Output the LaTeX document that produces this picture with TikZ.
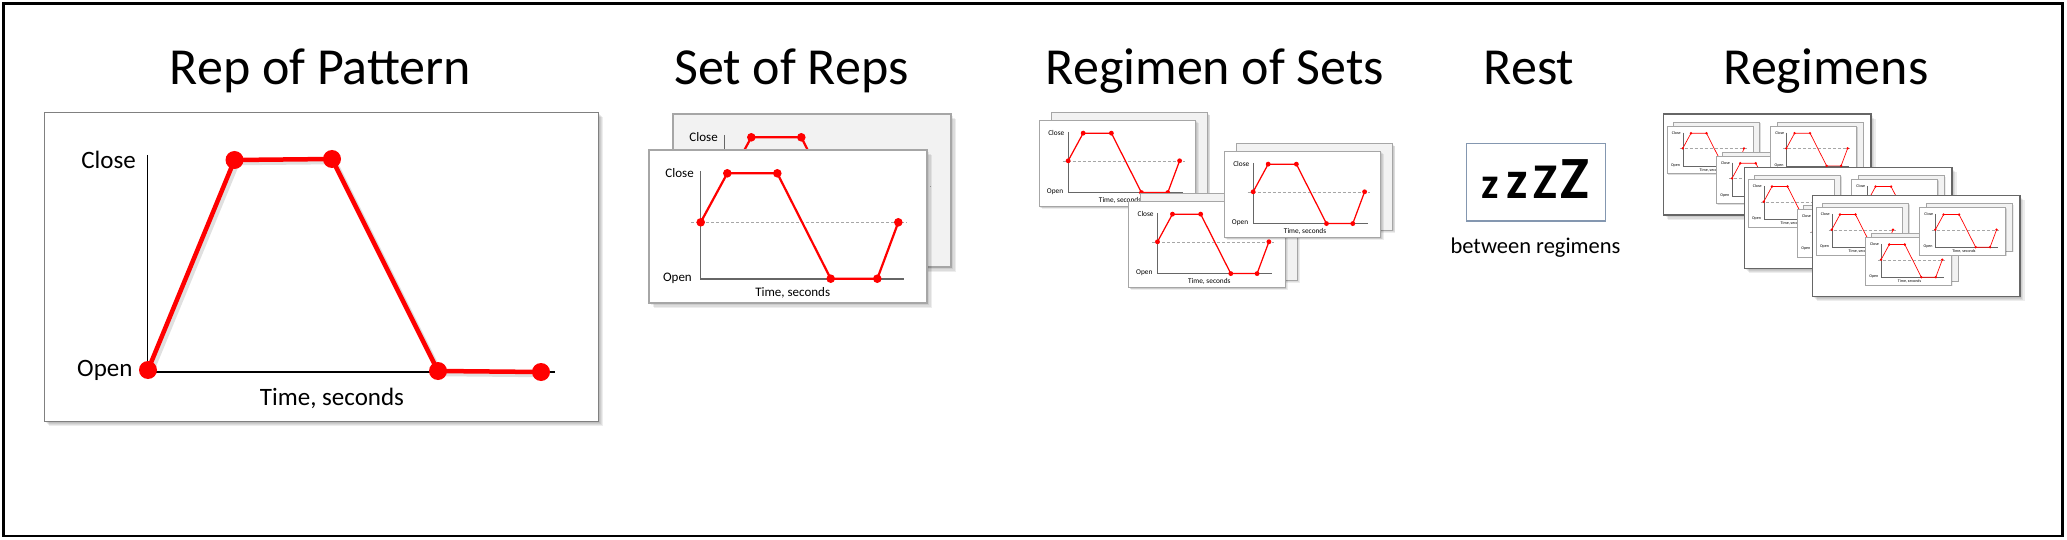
\documentclass[tikz,border=0pt]{standalone}
\usepackage{fontspec}
\setmainfont{Carlito}
\usepackage{xcolor}
\usepackage{tikz}
\usetikzlibrary{positioning}

\definecolor{restframe}{RGB}{132,151,176}
\definecolor{tracered}{RGB}{255,0,0}

% soft shadow under a box: x, y, width, height
\newcommand\dropshade[4]{%
  \foreach \d in {1.2,2.4,3.6,4.8}
    \fill[black, opacity=.07] (#1,#2) ++(\d,\d) rectangle ++(#3,#4);}

% one rep chart card: name, x, y, scale, fill
\newcommand\repcard[5]{%
  \begin{scope}[shift={(#2,#3)}, scale=#4]
    \pgfmathsetmacro\cardsc{#4}
    \dropshade{0}{0}{278}{153}
    \draw[draw=black!35, fill=#5, line width=\cardsc*1.2pt] (0,0) rectangle (278,153);
    \draw[black!35, densely dashed, line width=\cardsc*0.7pt] (42,72.3) -- (258,72.3);
    \draw[black!60, line width=\cardsc*1.1pt] (51.7,21) -- (51.7,129) -- (255,129);
    \draw[tracered, line width=\cardsc*2.2pt, line join=round]
      (51.7,72.3) -- (78.3,23.3) -- (128.3,23.3) -- (181.7,128.7) -- (228.3,128.7) -- (249.3,72.3);
    \foreach \px/\py in {51.7/72.3, 78.3/23.3, 128.3/23.3, 181.7/128.7, 228.3/128.7, 249.3/72.3}
      \fill[tracered] (\px,\py) circle (4.3);
    \node[cardlab, anchor=base east] (#1-close) at (45,27.1) {Close};
    \node[cardlab, anchor=base east] (#1-open) at (43,131.1) {Open};
    \node[cardlab, anchor=base] (#1-time) at (143.7,146) {Time, seconds};
  \end{scope}}

% two stacked cards (back one shifted): name, x, y, scale, dx, dy
\newcommand\repset[6]{%
  \pgfmathsetmacro\setbx{#2+#4*#5}%
  \pgfmathsetmacro\setby{#3+#4*#6}%
  \repcard{#1-back}{\setbx}{\setby}{#4}{black!5}%
  \repcard{#1-front}{#2}{#3}{#4}{white}}

% one regimen panel with three small sets: name, x, y
\newcommand\regpanel[3]{%
  \begin{scope}[shift={(#2,#3)}]
    \dropshade{0}{0}{207.5}{101}
    \draw[black!60, fill=white, line width=1.4pt] (0,0) rectangle (207.5,101);
    \repset{#1-a}{3.4}{12}{0.31}{21}{-13}
    \repset{#1-b}{52.7}{42}{0.31}{21}{-13}
    \repset{#1-c}{107}{12}{0.31}{21}{-13}
  \end{scope}}

\begin{document}
\begin{tikzpicture}[x=1pt, y=-1pt,
  title/.style={font=\fontsize{52}{60}\selectfont, inner sep=0, anchor=base},
  replab/.style={font=\fontsize{25}{30}\selectfont, inner sep=0},
  cardlab/.style={font=\fontsize{13}{15}\selectfont, inner sep=0, transform shape},
  zzz/.style={font=\bfseries, inner sep=0, anchor=base},
  restbox/.style={draw=restframe, line width=1.3pt, minimum width=139pt,
    minimum height=77.7pt, inner sep=0}]
\useasboundingbox (0,0) rectangle (2067,540);
\draw[line width=2.5pt] (3.5,3.5) rectangle (2062.5,536);
% ---- Rep of Pattern ----
\node[title] (t-rep) at (320.5,85) {Rep of Pattern};
\dropshade{44.3}{112.7}{554}{308.8}
\draw[black!50, fill=white, line width=1.6pt] (44.3,112.7) rectangle (598.3,421.5);
\draw[line width=1.2pt] (147.3,155) -- (147.3,372) -- (555,372);
\draw[black, opacity=.12, line width=4.5pt, shift={(3,3)}]
  (148,370) -- (234.5,160) -- (332,159) -- (438,371) -- (541,372);
\draw[tracered, line width=4.5pt, line join=round]
  (148,370) -- (234.5,160) -- (332,159) -- (438,371) -- (541,372);
\foreach \px/\py in {148/370, 234.5/160, 332/159, 438/371, 541/372}
  \fill[tracered] (\px,\py) circle (9);
\node[replab, anchor=base east] (rep-close) at (136,168.5) {Close};
\node[replab, anchor=base east] (rep-open) at (132.7,376) {Open};
\node[replab, anchor=base] (rep-time) at (332,405) {Time, seconds};
% ---- Set of Reps ----
\node[title] (t-set) at (791.3,85) {Set of Reps};
\repset{sor}{649}{150}{1}{24}{-36}
% ---- Regimen of Sets ----
\node[title] (t-ros) at (1215,85) {Regimen of Sets};
\repset{ros-a}{1039}{120}{0.564}{21}{-13}
\repset{ros-b}{1128.3}{201}{0.564}{21}{-13}
\repset{ros-c}{1224}{151}{0.564}{21}{-13}
% ---- Rest ----
\node[title] (t-rest) at (1529,85) {Rest};
\node[restbox] (rest-box) at (1535.8,182.2) {};
\node[zzz, font=\bfseries\fontsize{44}{50}\selectfont] (z1) at (1490.7,198.3) {z};
\node[zzz, font=\bfseries\fontsize{54}{60}\selectfont] (z2) at (1517.3,198.3) {z};
\node[zzz, font=\bfseries\fontsize{50}{60}\selectfont] (z3) at (1545,198.3) {Z};
\node[zzz, font=\bfseries\fontsize{60}{70}\selectfont] (z4) at (1575,198.3) {Z};
\node[replab, font=\fontsize{22.5}{27}\selectfont, anchor=base] (rest-note)
  at (1535.5,253.3) {between regimens};
% ---- Regimens ----
\node[title] (t-regs) at (1826,85) {Regimens};
\regpanel{rg1}{1663.3}{114}
\regpanel{rg2}{1744.3}{167.3}
\regpanel{rg3}{1812.3}{195.3}
\end{tikzpicture}
\end{document}
